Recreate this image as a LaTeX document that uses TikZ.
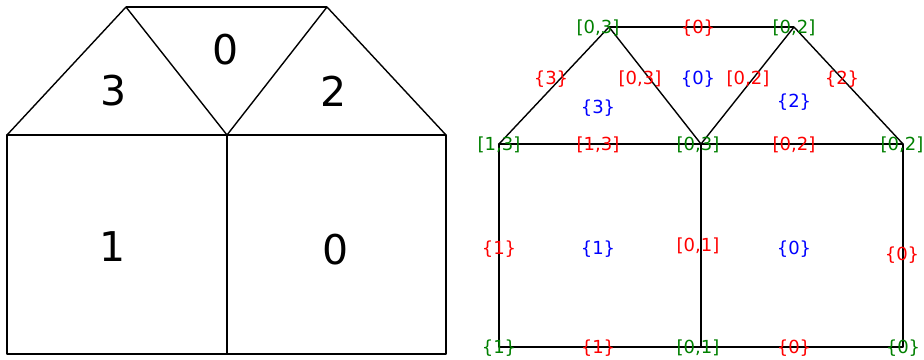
\documentclass[tikz,border=0pt]{standalone}
\usepackage{fontspec}
\setmainfont{DejaVu Sans}
\usetikzlibrary{calc}
\definecolor{VertGreen}{HTML}{008000}
\definecolor{EdgeRed}{HTML}{FF0000}
\definecolor{FaceBlue}{HTML}{0000FF}

\begin{document}
\begin{tikzpicture}[
  x=1pt, y=-1pt,
  wall/.style={draw, line width=1.4pt, line join=round},
  big/.style={inner sep=0pt, font=\fontsize{41}{46}\selectfont},
  small/.style={inner sep=0pt, font=\fontsize{18}{21}\selectfont},
  vlab/.style={small, text=VertGreen},
  elab/.style={small, text=EdgeRed},
  flab/.style={small, text=FaceBlue}
]
\useasboundingbox (0,0) rectangle (924,359);

% left house
\coordinate (l1) at (7,354);
\coordinate (l2) at (227,354);
\coordinate (l3) at (446,354);
\coordinate (l4) at (7,135);
\coordinate (l5) at (227,135);
\coordinate (l6) at (446,135);
\coordinate (l7) at (126,7);
\coordinate (l8) at (327,7);

\draw[wall] (l1) -- (l3) -- (l6) -- (l4) -- cycle;
\draw[wall] (l2) -- (l5);
\draw[wall] (l4) -- (l7) -- (l5) -- (l8) -- (l6);
\draw[wall] (l7) -- (l8);

\node[big] (lf3) at (114,91) {3};
\node[big] (lf0t) at (226,50) {0};
\node[big] (lf2) at (334,91) {2};
\node[big] (lf1) at (113,247) {1};
\node[big] (lf0b) at (336,250) {0};

% right house
\coordinate (r1) at (499,347);
\coordinate (r2) at (701,347);
\coordinate (r3) at (903,347);
\coordinate (r4) at (499,144);
\coordinate (r5) at (701,144);
\coordinate (r6) at (903,144);
\coordinate (r7) at (609,27);
\coordinate (r8) at (794,27);

\draw[wall] (r1) -- (r3) -- (r6) -- (r4) -- cycle;
\draw[wall] (r2) -- (r5);
\draw[wall] (r4) -- (r7) -- (r5) -- (r8) -- (r6);
\draw[wall] (r7) -- (r8);

\node[vlab] (v7) at (598,28) {[0,3]};
\node[vlab] (v8) at (794,28) {[0,2]};
\node[vlab] (v4) at (499,145) {[1,3]};
\node[vlab] (v5) at (698,145) {[0,3]};
\node[vlab] (v6) at (902,145) {[0,2]};
\node[vlab] (v1) at (499,348) {\{1\}};
\node[vlab] (v2) at (698,348) {[0,1]};
\node[vlab] (v3) at (903,348) {\{0\}};

\node[elab] (e47) at (551,79) {\{3\}};
\node[elab] (e75) at (640,79) {[0,3]};
\node[elab] (e78) at (698,28) {\{0\}};
\node[elab] (e58) at (748,79) {[0,2]};
\node[elab] (e86) at (842,79) {\{2\}};
\node[elab] (e45) at (598,145) {[1,3]};
\node[elab] (e56) at (794,145) {[0,2]};
\node[elab] (e14) at (499,249) {\{1\}};
\node[elab] (e25) at (698,246) {[0,1]};
\node[elab] (e36) at (902,255) {\{0\}};
\node[elab] (e12) at (598,348) {\{1\}};
\node[elab] (e23) at (794,348) {\{0\}};

\node[flab] (f3) at (598,108) {\{3\}};
\node[flab] (f0t) at (698,79) {\{0\}};
\node[flab] (f2) at (794,102) {\{2\}};
\node[flab] (f1) at (598,249) {\{1\}};
\node[flab] (f0b) at (794,249) {\{0\}};
\end{tikzpicture}
\end{document}
